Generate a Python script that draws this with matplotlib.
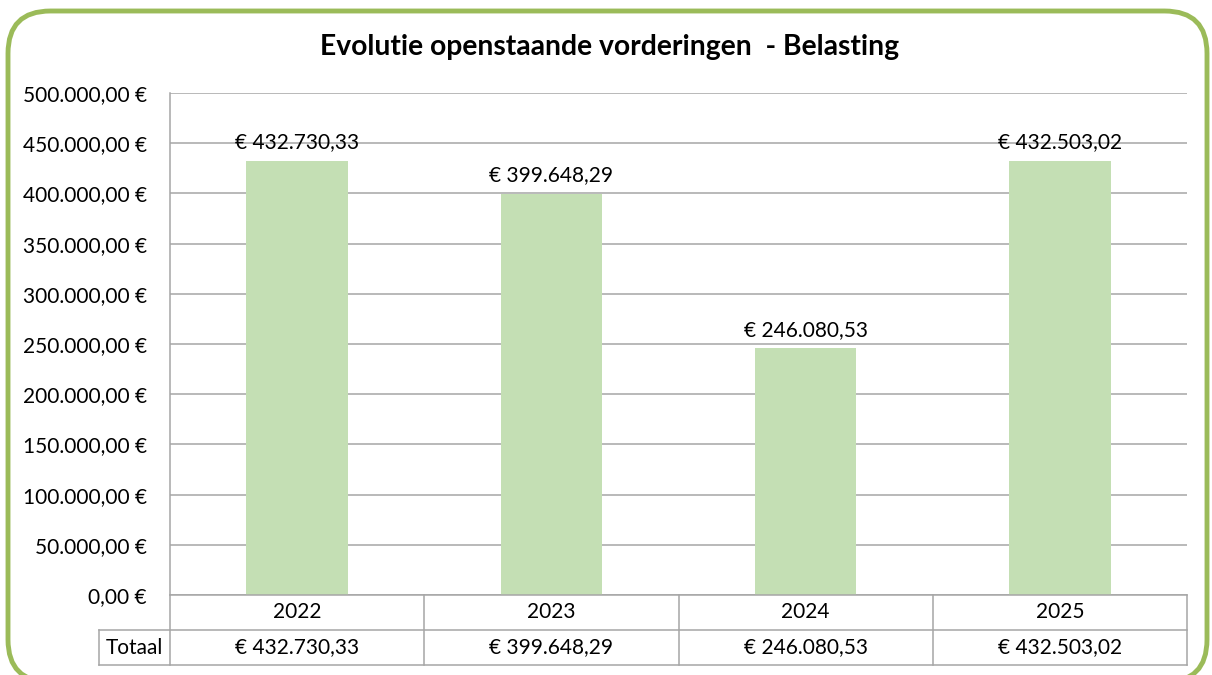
import matplotlib
matplotlib.use("Agg")
import matplotlib.pyplot as plt
from matplotlib.patches import FancyBboxPatch
from matplotlib.lines import Line2D

years = ["2022", "2023", "2024", "2025"]
values = [432730.33, 399648.29, 246080.53, 432503.02]
value_labels = ["€ 432.730,33", "€ 399.648,29", "€ 246.080,53", "€ 432.503,02"]
yticks = [0, 50000, 100000, 150000, 200000, 250000, 300000, 350000, 400000, 450000, 500000]
ytick_labels = ["0,00 €", "50.000,00 €", "100.000,00 €", "150.000,00 €", "200.000,00 €",
                "250.000,00 €", "300.000,00 €", "350.000,00 €", "400.000,00 €",
                "450.000,00 €", "500.000,00 €"]
row_label = "Totaal"
title = "Evolutie openstaande vorderingen  - Belasting"

plt.rcParams['font.family'] = ['Lato', 'DejaVu Sans']

W, H = 1212, 675
fig = plt.figure(figsize=(W / 100, H / 100), dpi=100, facecolor="white")

def fx(px):
    return px / W

def fy(py):
    return 1 - py / H

# green rounded border
border = FancyBboxPatch((fx(8), fy(682)), fx(1207) - fx(8), fy(11) - fy(682),
                        boxstyle="round,pad=0,rounding_size=0.035",
                        transform=fig.transFigure, facecolor="none",
                        edgecolor="#9BBB59", linewidth=3.5, mutation_aspect=W / H,
                        clip_on=False, zorder=5)
fig.add_artist(border)

left, right, top, bottom = 170, 1187, 93, 595
ax = fig.add_axes([fx(left), fy(bottom), fx(right) - fx(left), fy(top) - fy(bottom)])
ax.set_facecolor("none")
x = list(range(len(years)))
ax.bar(x, values, width=0.4, color="#C4DFB4", zorder=2)
ax.set_xlim(-0.5, len(years) - 0.5)
ax.set_ylim(0, 500000)
ax.set_yticks(yticks)
ax.set_yticklabels(ytick_labels, fontsize=15)
ax.tick_params(axis="y", length=0, pad=16.5)
ax.set_xticks([])
ax.yaxis.grid(True, color="#A6A6A6", linewidth=1.1, zorder=0)
ax.set_axisbelow(True)
for s in ["top", "right", "bottom"]:
    ax.spines[s].set_visible(False)
ax.spines["left"].set_color("#A6A6A6")
ax.spines["left"].set_linewidth(1.1)

for xi, v, lab in zip(x, values, value_labels):
    ax.annotate(lab, (xi, v), xytext=(0, 6), textcoords="offset points",
                ha="center", va="bottom", fontsize=15)

fig.text(fx(610), fy(47), title, ha="center", va="center", fontsize=20.3, fontweight="bold")

# data table
lc = "#A6A6A6"
lw = 1.1
col_edges = [left + (right - left) * i / len(years) for i in range(len(years) + 1)]
r0, r1, r2 = bottom, 630, 665
tab_left = 99
def hline(y, x0, x1):
    fig.add_artist(Line2D([fx(x0), fx(x1)], [fy(y), fy(y)], color=lc, lw=lw))
def vline(xp, y0, y1):
    fig.add_artist(Line2D([fx(xp), fx(xp)], [fy(y0), fy(y1)], color=lc, lw=lw))
hline(r0, left, right)
hline(r1, tab_left, right)
hline(r2, tab_left, right)
for ce in col_edges:
    vline(ce, r0, r2)
vline(tab_left, r1, r2)
for i, (yr, lab) in enumerate(zip(years, value_labels)):
    cx = (col_edges[i] + col_edges[i + 1]) / 2
    fig.text(fx(cx), fy((r0 + r1) / 2), yr, ha="center", va="center", fontsize=15)
    fig.text(fx(cx), fy((r1 + r2) / 2), lab, ha="center", va="center", fontsize=15)
fig.text(fx((tab_left + left) / 2), fy((r1 + r2) / 2), row_label, ha="center", va="center", fontsize=15)

fig.savefig("out.png", dpi=100)
